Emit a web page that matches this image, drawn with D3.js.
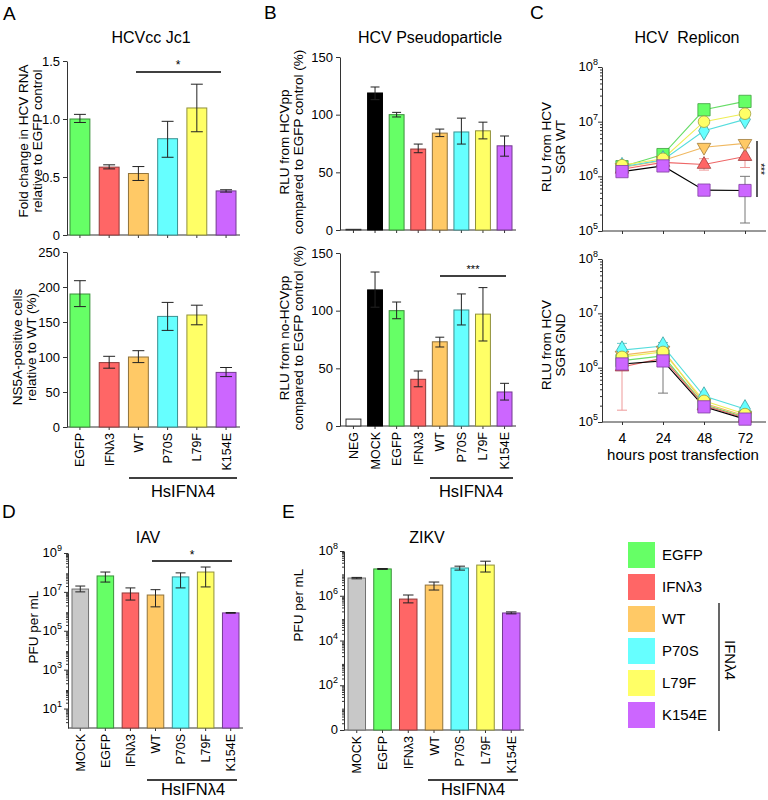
<!DOCTYPE html>
<html>
<head>
<meta charset="utf-8">
<script src="https://cdn.jsdelivr.net/npm/d3@7"></script>
<style>
  body { margin: 0; background: #fff; }
  svg { font-family: Arial, "Liberation Sans", sans-serif; }
  .axis path, .axis line { stroke: #333; }
  .axis text { font-size: 13px; fill: #000; font-family: Arial, "Liberation Sans", sans-serif; }
</style>
</head>
<body>
<div id="chart"></div>
<script>
// groups shared by all panels
var groups = ["EGFP", "IFNλ3", "WT", "P70S", "L79F", "K154E"];
var groupColors = ["#66ff66", "#ff6666", "#ffc966", "#66ffff", "#ffff66", "#cc66ff"];

// A: HCVcc Jc1
var jc1Mean = [1.0, 0.585, 0.53, 0.83, 1.095, 0.38];
var jc1Lo = [0.97, 0.57, 0.47, 0.67, 0.89, 0.37];
var jc1Hi = [1.04, 0.605, 0.59, 0.98, 1.3, 0.39];
var jc1Ticks = [0, 0.5, 1.0, 1.5];
var ns5aMean = [190, 92, 100, 158, 160, 78];
var ns5aLo = [172, 84, 92, 138, 146, 72];
var ns5aHi = [209, 101, 109, 178, 174, 85];
var ns5aTicks = [0, 50, 100, 150, 200, 250];

// B: HCV pseudoparticle
var ppCats = ["NEG", "MOCK"].concat(groups);
var ppColors = ["#ffffff", "#000000"].concat(groupColors);
var hcvppMean = [0.6, 118.8, 100, 70.2, 84, 85, 86, 73];
var hcvppLo = [0.6, 113, 98, 67, 81, 74.5, 79, 64];
var hcvppHi = [0.6, 124, 102, 74.5, 87.5, 97, 93.5, 81.5];
var noppMean = [6, 118, 100, 40.5, 73, 100.6, 97, 29.5];
var noppLo = [6, 103, 93, 34, 68.5, 87.6, 73.7, 22.5];
var noppHi = [6, 133.5, 107.5, 47.7, 77, 114.5, 120, 37];
var ppTicks = [0, 50, 100, 150];

// C: HCV replicon (rows follow groups)
var hours = [4, 24, 48, 72];
var sgrWT = [
  [1.5e6, 2.5e6, 1.65e7, 2.35e7],
  [1.35e6, 1.8e6, 1.65e6, 2.3e6],
  [1.45e6, 1.95e6, 3.4e6, 4.0e6],
  [1.5e6, 2.0e6, 6.8e6, 1.1e7],
  [1.6e6, 2.1e6, 1.0e7, 1.4e7],
  [1.22e6, 1.55e6, 5.6e5, 5.5e5]
];
var sgrGND = [
  [1.35e6, 1.65e6, 2.1e5, 1.24e5],
  [1.03e6, 1.5e6, 2.0e5, 1.18e5],
  [1.7e6, 2.1e6, 2.2e5, 1.3e5],
  [2.1e6, 2.5e6, 3.0e5, 1.74e5],
  [1.58e6, 1.95e6, 2.45e5, 1.4e5],
  [1.17e6, 1.33e6, 1.9e5, 1.13e5]
];
// [group, time, low, high]
var sgrWTErr = [[1, 2, 1.3e6, 2.1e6], [1, 3, 1.45e6, 3.3e6], [2, 3, 3.4e6, 4.5e6], [5, 0, 1.1e6, 1.35e6], [5, 3, 1.4e5, 1.0e6]];
var sgrGNDErr = [[1, 0, 1.65e5, 1.03e6], [3, 0, 1.7e6, 2.8e6], [3, 1, 2.1e6, 2.9e6], [5, 1, 3.4e5, 1.33e6]];
var replTicks = [1e5, 1e6, 1e7, 1e8];

// D / E: IAV and ZIKV
var virusCats = ["MOCK"].concat(groups);
var virusColors = ["#c8c8c8"].concat(groupColors);
var iavMean = [1.4e7, 6.6e7, 8.8e6, 6.9e6, 5.9e7, 1.05e8, 8.3e5];
var iavLo = [1.0e7, 3.2e7, 3.8e6, 1.7e6, 1.6e7, 1.8e7, 8.0e5];
var iavHi = [2.0e7, 1.05e8, 1.6e7, 1.3e7, 9.5e7, 1.9e8, 8.7e5];
var iavTicks = [1e1, 1e3, 1e5, 1e7, 1e9];
var zikvMean = [6.2e6, 1.58e7, 7.1e5, 3.0e6, 1.74e7, 2.35e7, 1.7e5];
var zikvLo = [5.7e6, 1.5e7, 4.8e5, 1.8e6, 1.4e7, 1.15e7, 1.55e5];
var zikvHi = [6.6e6, 1.65e7, 1.08e6, 4.1e6, 2.1e7, 3.5e7, 1.9e5];
var zikvTicks = [1, 1e2, 1e4, 1e6, 1e8];

var svg = d3.select("#chart").append("svg")
    .attr("width", 768)
    .attr("height", 800);

function minorTicks(lo, hi) {
  var out = [];
  for (var e = lo; e < hi; e++)
    for (var m = 2; m < 10; m++) out.push(m * Math.pow(10, e));
  return out;
}

function powLabel(g, x, y, v, zero) {
  var t = g.append("text").attr("x", x).attr("y", y).attr("text-anchor", "end")
      .style("font-size", "13px");
  if (zero && v === 1) { t.text("0"); return; }
  t.append("tspan").text("10");
  t.append("tspan").attr("dy", -6).style("font-size", "9px").text(Math.round(Math.log10(v)));
}

function yLabel(lines, xs, cy, size) {
  lines.forEach(function(s, i) {
    svg.append("text")
        .attr("transform", "translate(" + xs[i] + "," + cy + ")rotate(-90)")
        .attr("text-anchor", "middle")
        .style("font-size", size || "13.5px")
        .text(s);
  });
}

function text(x, y, s, size, anchor) {
  return svg.append("text").attr("x", x).attr("y", y)
      .attr("text-anchor", anchor || "middle")
      .style("font-size", size)
      .style("white-space", "pre")
      .text(s);
}

function groupLine(x1, x2, y, tx, ty) {
  svg.append("line").attr("x1", x1).attr("x2", x2).attr("y1", y).attr("y2", y)
      .attr("stroke", "#000").attr("stroke-width", 1.3);
  if (tx) text(tx, ty, "HsIFNλ4", "16.5px");
}

function barChart(p) {
  var x = d3.scaleBand().domain(p.cats).range([p.x0, p.x1]).paddingInner(p.pad);
  var y = p.y;
  var base = y.range()[0];
  var g = svg.append("g");

  g.append("g").attr("class", "axis")
      .attr("transform", "translate(" + p.axisX + ",0)")
      .call(d3.axisLeft(y).tickValues(p.ticks).tickSize(4).tickSizeOuter(0)
          .tickFormat(p.log ? "" : p.fmt));
  if (p.minor) {
    g.append("g").attr("class", "axis")
        .attr("transform", "translate(" + p.axisX + ",0)")
        .call(d3.axisLeft(y).tickValues(p.minor).tickSize(2).tickFormat(""))
        .select(".domain").remove();
  }
  if (p.log) {
    p.ticks.forEach(function(t) { powLabel(g, p.axisX - 6, y(t) + 4, t, p.zero); });
  }

  var xa = g.append("g").attr("class", "axis")
      .attr("transform", "translate(0," + base + ")")
      .call(d3.axisBottom(x).tickSize(3).tickFormat(""));
  xa.select(".domain").remove();
  g.append("line").attr("x1", p.axisX).attr("x2", p.x1 + 4)
      .attr("y1", base).attr("y2", base).attr("stroke", "#333");

  g.selectAll(".bar").data(p.mean).join("rect")
      .attr("x", function(d, i) { return x(p.cats[i]); })
      .attr("width", x.bandwidth())
      .attr("y", function(d) { return y(Math.max(d, p.log ? 1 : 0)); })
      .attr("height", function(d) { return base - y(Math.max(d, p.log ? 1 : 0)); })
      .attr("fill", function(d, i) { return p.colors[i]; })
      .attr("stroke", function(d, i) { return p.colors[i] == "#ffffff" ? "#333" : d3.color(p.colors[i]).darker(1.6); })
      .attr("stroke-width", 1);

  var cap = x.bandwidth() * 0.3;
  p.mean.forEach(function(d, i) {
    if (p.lo[i] == p.hi[i]) return;
    var cx = x(p.cats[i]) + x.bandwidth() / 2;
    var e = g.append("g").attr("stroke", "#222").attr("stroke-width", 1);
    e.append("line").attr("x1", cx).attr("x2", cx).attr("y1", y(p.lo[i])).attr("y2", y(p.hi[i]));
    e.append("line").attr("x1", cx - cap).attr("x2", cx + cap).attr("y1", y(p.lo[i])).attr("y2", y(p.lo[i]));
    e.append("line").attr("x1", cx - cap).attr("x2", cx + cap).attr("y1", y(p.hi[i])).attr("y2", y(p.hi[i]));
  });

  if (p.labels) {
    p.cats.forEach(function(c) {
      g.append("text")
          .attr("transform", "translate(" + (x(c) + x.bandwidth() / 2 + 4.5) + "," + (base + 6) + ")rotate(-90)")
          .attr("text-anchor", "end")
          .style("font-size", "12.5px")
          .text(c);
    });
  }
  return x;
}

var symbolTypes = [d3.symbolSquare, d3.symbolTriangle, d3.symbolTriangle, d3.symbolDiamond, d3.symbolCircle, d3.symbolSquare];
var symbolSizes = [150, 80, 80, 100, 105, 150];
var symbolRot = [0, 0, 180, 0, 0, 0];
var lineColors = ["#66dd66", "#ee6666", "#f0b860", "#55dddd", "#eeee55", "#000000"];
var errColors = ["#66cc66", "#ee9999", "#ddaa55", "#66cccc", "#dddd55", "#777777"];

function lineChart(p) {
  var x = d3.scalePoint().domain(hours).range([622, 745]);
  var y = d3.scaleLog().domain([1e5, 1e8]).range([p.bottom, p.top]);
  var g = svg.append("g");

  g.append("g").attr("class", "axis").attr("transform", "translate(602,0)")
      .call(d3.axisLeft(y).tickValues(replTicks).tickSize(4).tickSizeOuter(0).tickFormat(""));
  g.append("g").attr("class", "axis").attr("transform", "translate(602,0)")
      .call(d3.axisLeft(y).tickValues(minorTicks(5, 8)).tickSize(2).tickFormat(""))
      .select(".domain").remove();
  replTicks.forEach(function(t) { powLabel(g, 598, y(t) + 4, t); });

  var xa = g.append("g").attr("class", "axis").attr("transform", "translate(0," + p.bottom + ")")
      .call(d3.axisBottom(x).tickSize(3).tickFormat(p.xLabels ? null : ""));
  xa.select(".domain").remove();
  xa.selectAll("text").style("font-size", "14px").attr("dy", "1.05em");
  g.append("line").attr("x1", 602).attr("x2", 766).attr("y1", p.bottom).attr("y2", p.bottom).attr("stroke", "#333");

  var line = d3.line()
      .x(function(d, j) { return x(hours[j]); })
      .y(function(d) { return y(d); });

  p.data.forEach(function(row, i) {
    g.append("path").datum(row).attr("d", line)
        .attr("fill", "none").attr("stroke", lineColors[i]).attr("stroke-width", 1.1);
  });
  p.err.forEach(function(e) {
    var cx = x(hours[e[1]]);
    var eg = g.append("g").attr("stroke", errColors[e[0]]).attr("stroke-width", 1);
    eg.append("line").attr("x1", cx).attr("x2", cx).attr("y1", y(e[2])).attr("y2", y(e[3]));
    eg.append("line").attr("x1", cx - 5).attr("x2", cx + 5).attr("y1", y(e[2])).attr("y2", y(e[2]));
    eg.append("line").attr("x1", cx - 5).attr("x2", cx + 5).attr("y1", y(e[3])).attr("y2", y(e[3]));
  });
  p.data.forEach(function(row, i) {
    g.selectAll(null).data(row).join("path")
        .attr("transform", function(d, j) { return "translate(" + x(hours[j]) + "," + y(d) + ")rotate(" + symbolRot[i] + ")"; })
        .attr("d", d3.symbol().type(symbolTypes[i]).size(symbolSizes[i]))
        .attr("fill", groupColors[i])
        .attr("stroke", d3.color(groupColors[i]).darker(1.3))
        .attr("stroke-width", 0.8);
  });
}

// ---------- Panel A ----------
text(3, 20, "A", "19px", "start");
text(151, 43, "HCVcc Jc1", "16px");
barChart({
  cats: groups, mean: jc1Mean, lo: jc1Lo, hi: jc1Hi, colors: groupColors,
  x0: 70, x1: 236, pad: 0.32, axisX: 67,
  y: d3.scaleLinear().domain([0, 1.5]).range([235, 61]),
  ticks: jc1Ticks, fmt: function(d) { return d == 0 ? "0" : d3.format(".1f")(d); }
});
yLabel(["Fold change in HCV RNA", "relative to EGFP control"], [28, 42], 141);
groupLine(136, 221, 72);
text(178, 69, "*", "12px");

barChart({
  cats: groups, mean: ns5aMean, lo: ns5aLo, hi: ns5aHi, colors: groupColors,
  x0: 70, x1: 236, pad: 0.32, axisX: 67,
  y: d3.scaleLinear().domain([0, 250]).range([427, 252]),
  ticks: ns5aTicks, fmt: d3.format("d"), labels: true
});
yLabel(["NS5A-positive cells", "relative to WT (%)"], [22, 36], 347);
groupLine(129, 237, 478, 183, 497);

// ---------- Panel B ----------
text(264, 19, "B", "19px", "start");
text(430, 43, "HCV Pseudoparticle", "16px");
barChart({
  cats: ppCats, mean: hcvppMean, lo: hcvppLo, hi: hcvppHi, colors: ppColors,
  x0: 346, x1: 512, pad: 0.31, axisX: 340,
  y: d3.scaleLinear().domain([0, 150]).range([230, 57]),
  ticks: ppTicks, fmt: d3.format("d")
});
yLabel(["RLU from HCVpp", "compared to EGFP control (%)"], [289, 303], 142);

barChart({
  cats: ppCats, mean: noppMean, lo: noppLo, hi: noppHi, colors: ppColors,
  x0: 346, x1: 512, pad: 0.31, axisX: 340,
  y: d3.scaleLinear().domain([0, 150]).range([426, 253]),
  ticks: ppTicks, fmt: d3.format("d"), labels: true
});
yLabel(["RLU from no-HCVpp", "compared to EGFP control (%)"], [289, 303], 338);
groupLine(440, 506, 276);
text(473, 273, "***", "11px");
groupLine(430, 513, 478, 471, 497);

// ---------- Panel C ----------
text(530, 19, "C", "19px", "start");
text(687, 43, "HCV  Replicon", "16px");
lineChart({ data: sgrWT, err: sgrWTErr, top: 67, bottom: 231 });
yLabel(["RLU from HCV", "SGR WT"], [551, 565], 147);
svg.append("line").attr("x1", 757).attr("x2", 757).attr("y1", 141).attr("y2", 197)
    .attr("stroke", "#000").attr("stroke-width", 1.3);
svg.append("text").attr("transform", "translate(757,169)rotate(90)")
    .attr("text-anchor", "middle").style("font-size", "10px").text("***");

lineChart({ data: sgrGND, err: sgrGNDErr, top: 259, bottom: 422, xLabels: true });
yLabel(["RLU from HCV", "SGR GND"], [551, 565], 345);
text(683, 460, "hours post transfection", "15px");

// ---------- Panel D ----------
text(2, 518, "D", "19px", "start");
text(148, 543, "IAV", "16px");
barChart({
  cats: virusCats, mean: iavMean, lo: iavLo, hi: iavHi, colors: virusColors,
  x0: 72, x1: 239, pad: 0.34, axisX: 68,
  y: d3.scaleLog().domain([1, 1e9]).range([728, 553]),
  ticks: iavTicks, log: true, minor: minorTicks(0, 9), labels: true
});
yLabel(["PFU per mL"], [38], 627);
groupLine(152, 232, 561);
text(192, 559, "*", "12px");
groupLine(147, 237, 780, 193, 795);

// ---------- Panel E ----------
text(282, 518, "E", "19px", "start");
text(427, 543, "ZIKV", "16px");
barChart({
  cats: virusCats, mean: zikvMean, lo: zikvLo, hi: zikvHi, colors: virusColors,
  x0: 348, x1: 520, pad: 0.32, axisX: 344,
  y: d3.scaleLog().domain([1, 1e8]).range([730, 551]),
  ticks: zikvTicks, log: true, zero: true, minor: minorTicks(0, 8), labels: true
});
yLabel(["PFU per mL"], [303], 605);
groupLine(428, 518, 780, 473, 795);

// ---------- Legend ----------
var legend = svg.append("g");
groups.forEach(function(gname, i) {
  legend.append("rect").attr("x", 628).attr("y", 542 + i * 32)
      .attr("width", 27).attr("height", 26).attr("fill", groupColors[i]);
  legend.append("text").attr("x", 662).attr("y", 560 + i * 32)
      .style("font-size", "15px").text(gname);
});
legend.append("line").attr("x1", 719).attr("x2", 719).attr("y1", 603).attr("y2", 731)
    .attr("stroke", "#000").attr("stroke-width", 1.2);
legend.append("text").attr("transform", "translate(725,660)rotate(90)")
    .attr("text-anchor", "middle").style("font-size", "15px").text("IFNλ4");
</script>
</body>
</html>
